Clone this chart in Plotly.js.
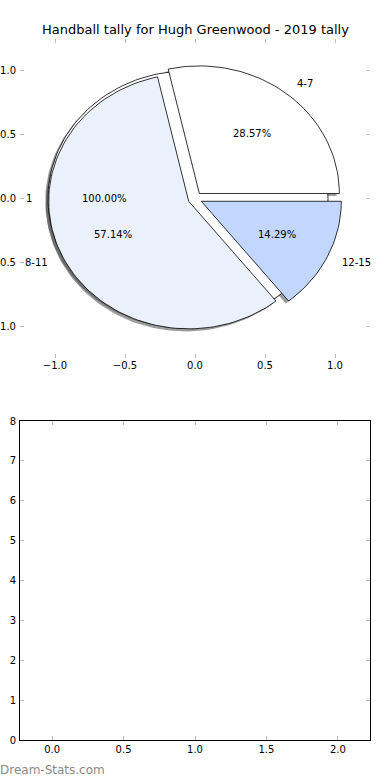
<!DOCTYPE html>
<html>
<head>
<meta charset="utf-8">
<script src="https://cdn.plot.ly/plotly-3.0.1.min.js"></script>
<style>html,body{margin:0;padding:0;background:#fff;}#chart{width:390px;height:780px;}</style>
</head>
<body>
<div id="chart"></div>
<script>
// ---- data ----
const titleText = 'Handball tally for Hugh Greenwood - 2019 tally';
const outerLabels = ['1'];
const outerValues = [1];
const outerColors = ['#ffffff'];
const sliceLabels = ['4-7', '8-11', '12-15'];
const sliceValues = [2, 4, 1];
const sliceColors = ['#ffffff', '#EAF0FC', '#C3D6FD'];
const explode = 0.05;
const xTicks = [-1.0, -0.5, 0.0, 0.5, 1.0];
const yTicks = [-1.0, -0.5, 0.0, 0.5, 1.0];
const x2Ticks = [0.0, 0.5, 1.0, 1.5, 2.0];
const y2Ticks = [0, 1, 2, 3, 4, 5, 6, 7, 8];
const watermark = 'Dream-Stats.com';

const shadowTraces = [];
const wedgeTraces = [];
const annotations = [];
const font = {family: 'DejaVu Sans', size: 10, color: '#000'};

function wedge(cx, cy, t1, t2) {
  const full = (t2 - t1) >= 359.999;
  const xs = full ? [] : [cx], ys = full ? [] : [cy];
  const n = Math.max(8, Math.ceil((t2 - t1) / 2));
  for (let i = 0; i <= n; i++) {
    const a = (t1 + (t2 - t1) * i / n) * Math.PI / 180;
    xs.push(cx + Math.cos(a)); ys.push(cy + Math.sin(a));
  }
  if (!full) { xs.push(cx); ys.push(cy); }
  return {xs, ys};
}

function drawPie(labels, values, colors, exp) {
  const total = values.reduce((a, b) => a + b, 0);
  let start = 0;
  values.forEach((v, i) => {
    const frac = v / total;
    const end = start + frac * 360;
    const mid = (start + end) / 2 * Math.PI / 180;
    const cx = exp * Math.cos(mid), cy = exp * Math.sin(mid);
    const w = wedge(cx, cy, start, end);
    // shadow (drawn beneath all wedges)
    shadowTraces.push({type: 'scatter', mode: 'lines', x: w.xs.map(x => x - 0.02), y: w.ys.map(y => y - 0.02),
      fill: 'toself', fillcolor: 'rgba(60,60,60,0.5)', line: {width: 0}, hoverinfo: 'skip', showlegend: false});
    // wedge
    wedgeTraces.push({type: 'scatter', mode: 'lines', x: w.xs, y: w.ys, fill: 'toself', fillcolor: colors[i],
      line: {color: '#000', width: 0.8}, hoverinfo: 'skip', showlegend: false});
    // label
    const lx = cx + 1.1 * Math.cos(mid), ly = cy + 1.1 * Math.sin(mid);
    annotations.push({x: lx, y: ly, xref: 'x', yref: 'y', text: labels[i], showarrow: false,
      xanchor: lx > 0 ? 'left' : 'right', yanchor: 'middle', font: font});
    const px = cx + 0.6 * Math.cos(mid), py = cy + 0.6 * Math.sin(mid);
    annotations.push({x: px, y: py, xref: 'x', yref: 'y', text: (frac * 100).toFixed(2) + '%', showarrow: false,
      xanchor: 'center', yanchor: 'middle', font: font});
    start = end;
  });
}

drawPie(outerLabels, outerValues, outerColors, explode);
drawPie(sliceLabels, sliceValues, sliceColors, explode);

const traces = shadowTraces.concat(wedgeTraces);
// empty second subplot
traces.push({type: 'scatter', mode: 'markers', x: [], y: [], xaxis: 'x2', yaxis: 'y2', showlegend: false});

annotations.push({xref: 'paper', yref: 'paper', x: 0.5, y: 1 - 30 / 780, text: titleText, showarrow: false,
  xanchor: 'center', yanchor: 'middle', font: {family: 'DejaVu Sans', size: 13, color: '#000'}});
annotations.push({xref: 'paper', yref: 'paper', x: 0, y: 1 - 770 / 780, text: watermark, showarrow: false,
  xanchor: 'left', yanchor: 'middle', xshift: -2, font: {family: 'DejaVu Sans', size: 12, color: '#8a8a8a'}});

const tickCommon = {ticks: 'inside', ticklen: 4, tickwidth: 1, tickcolor: '#bbbbbb', showgrid: false, zeroline: false,
  tickfont: font, fixedrange: true};

const layout = {
  width: 390, height: 780,
  margin: {l: 0, r: 0, t: 0, b: 0},
  paper_bgcolor: '#fff', plot_bgcolor: 'rgba(0,0,0,0)',
  showlegend: false,
  hovermode: false,
  xaxis: Object.assign({}, tickCommon, {domain: [20 / 390, 370 / 390], range: [-1.25, 1.25], anchor: 'y',
    tickvals: xTicks, ticktext: xTicks.map(v => v.toFixed(1).replace('-', '\u2212')), showline: false, mirror: 'ticks'}),
  yaxis: Object.assign({}, tickCommon, {domain: [1 - 358 / 780, 1 - 39 / 780], range: [-1.25, 1.25], anchor: 'x',
    tickvals: yTicks, ticktext: yTicks.map(v => v.toFixed(1).replace('-', '\u2212')), showline: false, mirror: 'ticks',
    ticklabelstandoff: 3}),
  xaxis2: Object.assign({}, tickCommon, {domain: [20 / 390, 370 / 390], range: [-0.225, 2.225], anchor: 'y2',
    tickvals: x2Ticks, ticktext: x2Ticks.map(v => v.toFixed(1)), showline: true, linecolor: '#000', linewidth: 1, mirror: 'ticks'}),
  yaxis2: Object.assign({}, tickCommon, {domain: [1 - 740 / 780, 1 - 421 / 780], range: [0, 8], anchor: 'x2',
    tickvals: y2Ticks, ticktext: y2Ticks.map(String), showline: true, linecolor: '#000', linewidth: 1, mirror: 'ticks',
    ticklabelstandoff: 1}),
  annotations: annotations
};

Plotly.newPlot('chart', traces, layout, {displayModeBar: false, staticPlot: true});
</script>
</body>
</html>
